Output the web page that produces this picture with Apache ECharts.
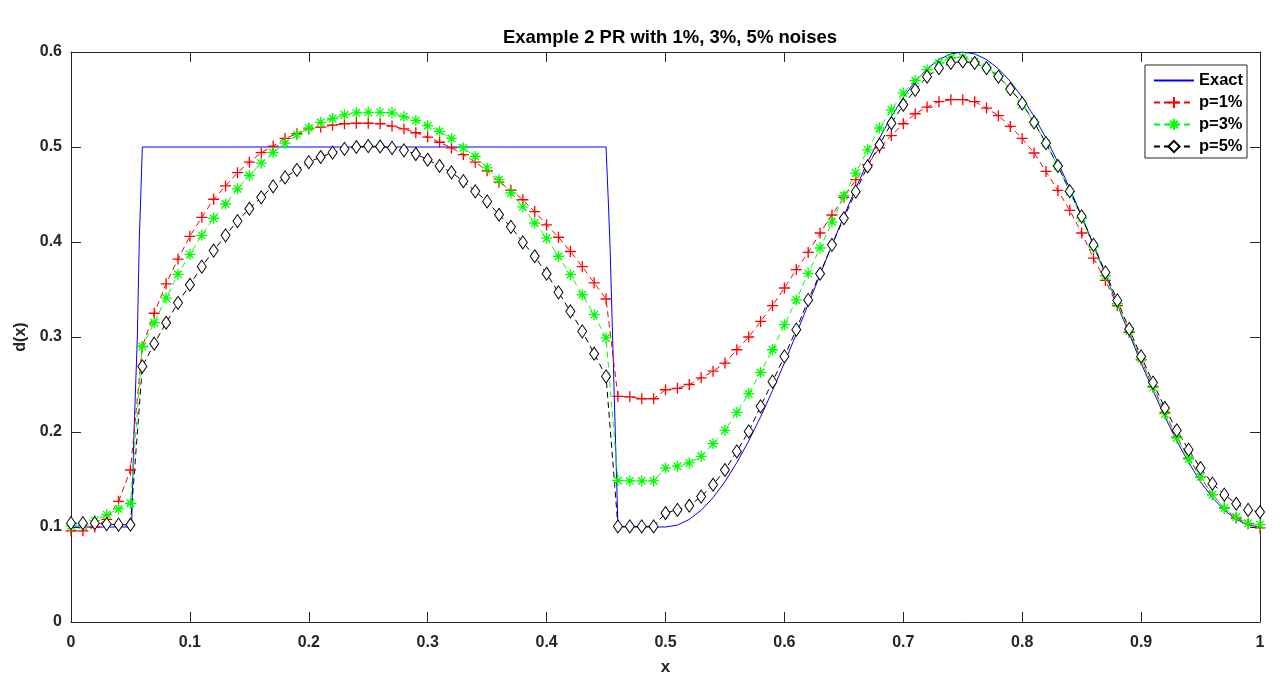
<!DOCTYPE html>
<html>
<head>
<meta charset="utf-8">
<title>Example 2 PR</title>
<script src="https://cdn.jsdelivr.net/npm/echarts@6/dist/echarts.min.js"></script>
<style>
  html, body { margin: 0; padding: 0; background: #fff; }
  #main { width: 1280px; height: 691px; }
</style>
</head>
<body>
<div id="main"></div>
<script>
// grid points
var xGrid = [0, 0.01, 0.02, 0.03, 0.04, 0.05, 0.06, 0.07, 0.08, 0.09,
    0.10, 0.11, 0.12, 0.13, 0.14, 0.15, 0.16, 0.17, 0.18, 0.19,
    0.20, 0.21, 0.22, 0.23, 0.24, 0.25, 0.26, 0.27, 0.28, 0.29,
    0.30, 0.31, 0.32, 0.33, 0.34, 0.35, 0.36, 0.37, 0.38, 0.39,
    0.40, 0.41, 0.42, 0.43, 0.44, 0.45, 0.46, 0.47, 0.48, 0.49,
    0.50, 0.51, 0.52, 0.53, 0.54, 0.55, 0.56, 0.57, 0.58, 0.59,
    0.60, 0.61, 0.62, 0.63, 0.64, 0.65, 0.66, 0.67, 0.68, 0.69,
    0.70, 0.71, 0.72, 0.73, 0.74, 0.75, 0.76, 0.77, 0.78, 0.79,
    0.80, 0.81, 0.82, 0.83, 0.84, 0.85, 0.86, 0.87, 0.88, 0.89,
    0.90, 0.91, 0.92, 0.93, 0.94, 0.95, 0.96, 0.97, 0.98, 0.99, 1.00];

// exact solution
var exactX = [0, 0.051, 0.0515, 0.053, 0.0558, 0.0574, 0.06, 0.45, 0.452, 0.4535, 0.457, 0.46,
    0.50, 0.51, 0.52, 0.53, 0.54, 0.55, 0.56, 0.57, 0.58, 0.59,
    0.60, 0.61, 0.62, 0.63, 0.64, 0.65, 0.66, 0.67, 0.68, 0.69,
    0.70, 0.71, 0.72, 0.73, 0.74, 0.75, 0.76, 0.77, 0.78, 0.79,
    0.80, 0.81, 0.82, 0.83, 0.84, 0.85, 0.86, 0.87, 0.88, 0.89,
    0.90, 0.91, 0.92, 0.93, 0.94, 0.95, 0.96, 0.97, 0.98, 0.99, 1.00];
var exactY = [0.1, 0.1, 0.13, 0.2, 0.3, 0.4, 0.5, 0.5, 0.44, 0.39, 0.234, 0.1,
    0.1, 0.102, 0.108, 0.1176, 0.1309, 0.1477, 0.1678, 0.1906, 0.216, 0.2436,
    0.2727, 0.3032, 0.3343, 0.3657, 0.3968, 0.4273, 0.4564, 0.484, 0.5094, 0.5322,
    0.5523, 0.5691, 0.5824, 0.5921, 0.598, 0.6, 0.598, 0.5921, 0.5824, 0.5691,
    0.5523, 0.5322, 0.5094, 0.484, 0.4564, 0.4273, 0.3968, 0.3657, 0.3343, 0.3032,
    0.2727, 0.2436, 0.216, 0.1906, 0.1678, 0.1477, 0.1309, 0.1176, 0.108, 0.102, 0.1];

// p=1%
var p1 = [0.096, 0.096, 0.100, 0.108, 0.127, 0.160, 0.290, 0.325, 0.356, 0.382,
    0.406, 0.426, 0.445, 0.459, 0.473, 0.484, 0.494, 0.501, 0.509, 0.514,
    0.519, 0.521, 0.523, 0.5245, 0.525, 0.525, 0.5245, 0.522, 0.519, 0.515,
    0.5105, 0.505, 0.499, 0.492, 0.484, 0.475, 0.463, 0.4545, 0.4445, 0.432,
    0.418, 0.405, 0.390, 0.374, 0.357, 0.340, 0.2375, 0.237, 0.235, 0.235,
    0.2445, 0.246, 0.250, 0.257, 0.264, 0.2726, 0.2866, 0.300, 0.3164, 0.333,
    0.3516, 0.371, 0.389, 0.4095, 0.4284, 0.447, 0.4656, 0.4814, 0.499, 0.512,
    0.5245, 0.535, 0.542, 0.5477, 0.5498, 0.5498, 0.5477, 0.541, 0.533, 0.5217,
    0.509, 0.4937, 0.4743, 0.4543, 0.4333, 0.4095, 0.383, 0.3596, 0.333, 0.305,
    0.276, 0.248, 0.2206, 0.1947, 0.1726, 0.1526, 0.134, 0.120, 0.1095, 0.1035, 0.099];

// p=3%
var p3 = [0.101, 0.102, 0.107, 0.113, 0.119, 0.125, 0.290, 0.315, 0.341, 0.366,
    0.387, 0.407, 0.425, 0.440, 0.456, 0.470, 0.483, 0.494, 0.504, 0.513,
    0.520, 0.526, 0.530, 0.534, 0.536, 0.5365, 0.5365, 0.536, 0.532, 0.528,
    0.5224, 0.5165, 0.509, 0.499, 0.490, 0.478, 0.4656, 0.4516, 0.437, 0.420,
    0.404, 0.385, 0.3656, 0.3445, 0.3235, 0.299, 0.149, 0.1485, 0.1485, 0.1485,
    0.162, 0.164, 0.1674, 0.1744, 0.1877, 0.2017, 0.2206, 0.2403, 0.2627, 0.2866,
    0.313, 0.339, 0.367, 0.3937, 0.421, 0.4487, 0.4726, 0.497, 0.520, 0.539,
    0.5568, 0.570, 0.5814, 0.5884, 0.5937, 0.5947, 0.590, 0.584, 0.575, 0.561,
    0.5445, 0.526, 0.504, 0.480, 0.453, 0.425, 0.395, 0.3645, 0.335, 0.306,
    0.277, 0.247, 0.219, 0.1937, 0.1716, 0.1526, 0.134, 0.120, 0.1105, 0.104, 0.1024];

// p=5%
var p5 = [0.104, 0.104, 0.104, 0.103, 0.1025, 0.1024, 0.269, 0.293, 0.315, 0.336,
    0.355, 0.374, 0.391, 0.407, 0.422, 0.435, 0.447, 0.4585, 0.468, 0.476,
    0.484, 0.4895, 0.494, 0.498, 0.500, 0.501, 0.5005, 0.499, 0.4965, 0.4926,
    0.4866, 0.480, 0.4733, 0.464, 0.4533, 0.4427, 0.4287, 0.416, 0.3996, 0.385,
    0.3666, 0.347, 0.327, 0.306, 0.2824, 0.2585, 0.1006, 0.1006, 0.1006, 0.1006,
    0.1147, 0.118, 0.1224, 0.132, 0.1445, 0.160, 0.1796, 0.2006, 0.227, 0.253,
    0.2796, 0.3077, 0.339, 0.3666, 0.397, 0.425, 0.453, 0.4796, 0.5024, 0.525,
    0.5445, 0.560, 0.574, 0.583, 0.5884, 0.590, 0.5884, 0.583, 0.574, 0.561,
    0.546, 0.526, 0.504, 0.480, 0.4535, 0.427, 0.397, 0.368, 0.3385, 0.3084,
    0.2796, 0.252, 0.2253, 0.2017, 0.1814, 0.162, 0.1456, 0.134, 0.1245, 0.118, 0.1158];

var seriesNames = ['Exact', 'p=1%', 'p=3%', 'p=5%'];

function pairs(xs, ys) {
    var out = [];
    for (var i = 0; i < ys.length; i++) {
        out.push([xs[i], ys[i]]);
    }
    return out;
}

var axisColor = '#262626';
var font = 'Liberation Sans, Arial, Helvetica, sans-serif';

// marker shapes
var plusPath = 'path://M5,0L5,10M0,5L10,5';
var starPath = 'path://M5,0L5,10M0,5L10,5M1.6,1.6L8.4,8.4M1.6,8.4L8.4,1.6';
var blankPath = 'path://M0,0L1,0L1,1L0,1Z';   // drawn transparent: legend shows just the line

// box axes: the mirrored ones only carry inside ticks
function boxAxis(pos, max, label) {
    var ax = {
        type: 'value',
        position: pos,
        min: 0, max: max, interval: 0.1,
        axisLine: { show: true, onZero: false, lineStyle: { color: axisColor, width: 1 } },
        axisTick: { show: true, inside: true, length: 10, lineStyle: { color: axisColor } },
        axisLabel: { show: label, fontFamily: font, fontWeight: 'bold', fontSize: 16, color: axisColor, margin: 9 },
        splitLine: { show: false }
    };
    return ax;
}

var myChart = echarts.init(document.getElementById('main'));

var xMain = boxAxis('bottom', 1, true);
xMain.name = 'x';
xMain.nameLocation = 'middle';
xMain.nameGap = 37;
xMain.nameTextStyle = { fontFamily: font, fontWeight: 'bold', fontSize: 17, color: axisColor };
xMain.axisLabel.margin = 13;

var yMain = boxAxis('left', 0.6, true);
yMain.name = 'd(x)';
yMain.nameLocation = 'middle';
yMain.nameGap = 30;
yMain.nameTextStyle = { fontFamily: font, fontWeight: 'bold', fontSize: 16, color: axisColor };

var option = {
    animation: false,
    backgroundColor: '#fff',
    title: {
        text: 'Example 2 PR with 1%, 3%, 5% noises',
        left: 665,
        textAlign: 'center',
        top: 23,
        textStyle: { fontFamily: font, fontWeight: 'bold', fontSize: 18.5, color: '#000' }
    },
    legend: {
        data: seriesNames,
        orient: 'vertical',
        right: 33,
        top: 65,
        itemWidth: 40,
        itemHeight: 14,
        itemGap: 5,
        padding: [7, 4, 3, 8],
        backgroundColor: '#fff',
        borderColor: axisColor,
        borderWidth: 1,
        borderRadius: 0,
        textStyle: { fontFamily: font, fontWeight: 'bold', fontSize: 16.5, color: '#000' }
    },
    grid: { left: 71, right: 20, top: 52, bottom: 69 },
    xAxis: [xMain, boxAxis('top', 1, false)],
    yAxis: [yMain, boxAxis('right', 0.6, false)],
    series: [
        {
            name: 'Exact',
            type: 'line',
            data: pairs(exactX, exactY),
            showSymbol: false,
            symbol: blankPath,
            color: '#0000ff',
            itemStyle: { color: 'rgba(0,0,0,0)', borderColor: 'rgba(0,0,0,0)', borderWidth: 0 },
            lineStyle: { color: '#0000ff', width: 1 }
        },
        {
            name: 'p=1%',
            type: 'line',
            data: pairs(xGrid, p1),
            symbol: plusPath,
            symbolSize: 11,
            color: '#ff0000',
            itemStyle: { color: 'none', borderColor: '#ff0000', borderWidth: 1.3 },
            lineStyle: { color: '#ff0000', width: 1, type: [6, 4] }
        },
        {
            name: 'p=3%',
            type: 'line',
            data: pairs(xGrid, p3),
            symbol: starPath,
            symbolSize: 11,
            color: '#00ff00',
            itemStyle: { color: 'none', borderColor: '#00ff00', borderWidth: 1.3 },
            lineStyle: { color: '#00ff00', width: 1, type: [6, 4] }
        },
        {
            name: 'p=5%',
            type: 'line',
            data: pairs(xGrid, p5),
            symbol: 'diamond',
            symbolSize: [9, 13],
            color: '#000000',
            itemStyle: { color: '#fff', borderColor: '#000000', borderWidth: 1 },
            lineStyle: { color: '#000000', width: 1, type: [6, 4] }
        }
    ]
};

myChart.setOption(option);
</script>
</body>
</html>
